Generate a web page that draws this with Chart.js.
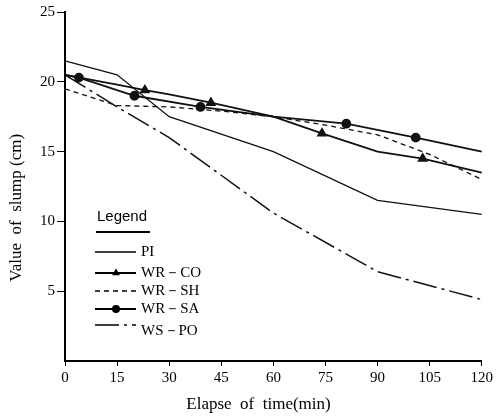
<!DOCTYPE html>
<html><head><meta charset="utf-8">
<script src="https://cdn.jsdelivr.net/npm/chart.js@4/dist/chart.umd.min.js"></script>
<style>html,body{margin:0;padding:0;background:#fff;} #wrap{width:496px;height:419px;position:relative;}</style>
</head><body><div id="wrap"><canvas id="c" width="496" height="419"></canvas></div>
<script>
// ---- data ----
const xTicks = [0, 15, 30, 45, 60, 75, 90, 105, 120];
const yTicks = [5, 10, 15, 20, 25];
const seriesNames = ['PI', 'WR－CO', 'WR－SH', 'WR－SA', 'WS－PO'];

const piTime  = [0, 15, 30, 60, 90, 120];
const piSlump = [21.5, 20.5, 17.5, 15.0, 11.5, 10.5];

const wrCoTime   = [0, 15, 23, 30, 42, 60, 74, 90, 103, 120];
const wrCoSlump  = [20.5, 19.8, 19.4, 19.1, 18.5, 17.5, 16.3, 15.0, 14.5, 13.5];
const wrCoMarkAt = [23, 42, 74, 103];

const wrShTime  = [0, 15, 30, 45, 60, 75, 90, 105, 120];
const wrShSlump = [19.5, 18.3, 18.2, 17.9, 17.5, 16.9, 16.2, 14.8, 13.0];

const wrSaTime   = [0, 4, 20, 39, 60, 81, 101, 120];
const wrSaSlump  = [20.5, 20.3, 19.0, 18.2, 17.5, 17.0, 16.0, 15.0];
const wrSaMarkAt = [4, 20, 39, 81, 101];

const wsPoTime  = [0, 15, 30, 60, 90, 120];
const wsPoSlump = [20.5, 18.2, 16.0, 10.6, 6.4, 4.4];

// ---- build ----
const pts = (t, v) => t.map((x, i) => ({x: x, y: v[i]}));
const radii = (t, marks, r) => t.map(x => (marks.includes(x) ? r : 0));

const SERIF = '"Liberation Serif", "DejaVu Serif", serif';

const datasets = [
  {label: seriesNames[0], data: pts(piTime, piSlump), borderColor: '#111', borderWidth: 1.3,
   pointRadius: 0, _legendMarker: null},
  {label: seriesNames[1], data: pts(wrCoTime, wrCoSlump), borderColor: '#111', borderWidth: 1.8,
   pointStyle: 'triangle', pointRadius: radii(wrCoTime, wrCoMarkAt, 4.5), pointBackgroundColor: '#111',
   pointBorderColor: '#111', _legendMarker: 'triangle'},
  {label: seriesNames[2], data: pts(wrShTime, wrShSlump), borderColor: '#111', borderWidth: 1.3,
   borderDash: [5, 4], pointRadius: 0, _legendMarker: null},
  {label: seriesNames[3], data: pts(wrSaTime, wrSaSlump), borderColor: '#111', borderWidth: 1.8,
   pointStyle: 'circle', pointRadius: radii(wrSaTime, wrSaMarkAt, 4), pointBackgroundColor: '#111',
   pointBorderColor: '#111', _legendMarker: 'circle'},
  {label: seriesNames[4], data: pts(wsPoTime, wsPoSlump), borderColor: '#111', borderWidth: 1.5,
   borderDash: [24, 5, 3, 5], pointRadius: 0, _legendMarker: null}
];
datasets.forEach(d => { d.fill = false; d.tension = 0; d.pointHoverRadius = 0; d.clip = false; });

const legendPlugin = {
  id: 'inlineLegend',
  afterDraw(chart) {
    const ctx = chart.ctx;
    ctx.save();
    ctx.fillStyle = '#000';
    ctx.strokeStyle = '#000';
    ctx.font = '15px "Liberation Sans", Arial, sans-serif';
    ctx.textBaseline = 'middle';
    ctx.textAlign = 'left';
    ctx.fillText('Legend', 97, 217);
    ctx.lineWidth = 2;
    ctx.beginPath(); ctx.moveTo(96, 232); ctx.lineTo(150, 232); ctx.stroke();
    const rowY = [252, 273, 291, 309, 325];
    const textDy = [0, 0, 0, 0, 6];
    ctx.font = '15px ' + SERIF;
    chart.data.datasets.forEach((ds, i) => {
      const y = rowY[i];
      ctx.save();
      ctx.lineWidth = ds.borderWidth;
      ctx.setLineDash(ds.borderDash || []);
      ctx.beginPath(); ctx.moveTo(95, y); ctx.lineTo(136, y); ctx.stroke();
      ctx.restore();
      if (ds._legendMarker) {
        Chart.helpers.drawPoint(ctx, {pointStyle: ds._legendMarker, radius: ds._legendMarker === 'triangle' ? 4.5 : 4, rotation: 0}, 116, y);
        ctx.fillStyle = '#000';
      }
      ctx.fillText(ds.label, 141, y + textDy[i]);
    });
    ctx.restore();
  }
};

new Chart(document.getElementById('c'), {
  type: 'line',
  data: {datasets: datasets},
  plugins: [legendPlugin],
  options: {
    responsive: false,
    animation: false,
    events: [],
    layout: {padding: {top: 12, right: 11, left: 0, bottom: 0}},
    plugins: {legend: {display: false}, tooltip: {enabled: false}},
    scales: {
      x: {
        type: 'linear', min: 0, max: 120,
        afterBuildTicks: s => { s.ticks = xTicks.map(v => ({value: v})); },
        afterFit: s => { s.height = 58; },
        border: {display: true, color: '#000', width: 2},
        grid: {display: true, drawOnChartArea: false, drawTicks: true, tickLength: 5, color: '#000', tickColor: '#000'},
        ticks: {color: '#000', font: {family: SERIF, size: 15}, padding: 3, maxRotation: 0},
        title: {display: true, text: 'Elapse  of  time(min)       ', color: '#000',
                font: {family: SERIF, size: 17}, padding: {top: 0, bottom: 4}}
      },
      y: {
        type: 'linear', min: 0, max: 25,
        afterBuildTicks: s => { s.ticks = yTicks.map(v => ({value: v})); },
        afterFit: s => { s.width = 65; },
        border: {display: true, color: '#000', width: 2},
        grid: {display: true, drawOnChartArea: false, drawTicks: true, tickLength: 8, color: '#000', tickColor: '#000'},
        ticks: {color: '#000', font: {family: SERIF, size: 15}, padding: 2},
        title: {display: true, text: 'Value  of  slump (cm)          ', color: '#000',
                font: {family: SERIF, size: 17}, padding: {top: 6, bottom: 0}}
      }
    }
  }
});
</script>
</body></html>
